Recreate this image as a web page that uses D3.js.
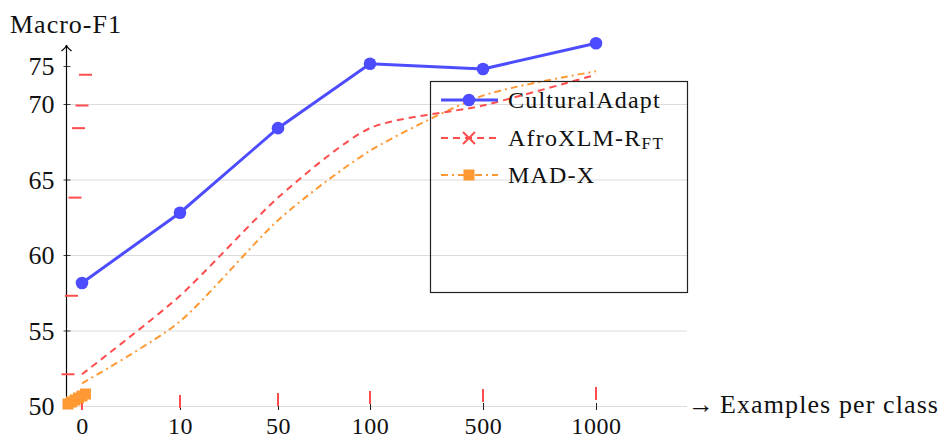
<!DOCTYPE html>
<html><head><meta charset="utf-8">
<script src="https://cdn.jsdelivr.net/npm/d3@7"></script>
<style>
html,body{margin:0;padding:0;background:#fff;}
svg{display:block;}
text{font-family:"Liberation Serif","Times New Roman",serif;fill:#111;}
</style></head>
<body><svg id="c" width="943" height="440"></svg>
<script>
// ---- data ----
const xCats = [0, 10, 50, 100, 500, 1000];
const xTickLabels = ["0", "10", "50", "100", "500", "1000"];
const culturalAdapt = [58.15, 62.8, 68.4, 75.3, 74.6, 78.0];
const afroXLMR = [52.1, 57.3, 63.8, 68.4, 69.9, 73.85];
const madX = [51.5, 55.6, 62.3, 66.9, 71.1, 74.3];
const yTicks = [50, 55, 60, 65, 70, 75];
const gridTicks = [50, 55, 60, 65, 70];
const seriesNames = ["CulturalAdapt", "AfroXLM-R", "MAD-X"];
const seriesColors = ["#4d4dff", "#ff4d4d", "#ff9933"];

const svg = d3.select("#c");
const x = d3.scaleLinear().domain(xCats).range([82, 180, 278, 370, 483, 596]);
const y = d3.scaleLinear().domain([50, 70, 75]).range([406, 104, 66]);
const axisX = 66, plotRight = 687, baseY = y(50);

// grid
svg.append("g").selectAll("line").data(gridTicks).join("line")
  .attr("x1", axisX).attr("x2", plotRight)
  .attr("y1", d => y(d) + 0.5).attr("y2", d => y(d) + 0.5)
  .attr("stroke", "#dcdcdc").attr("stroke-width", 1.2);

// y axis (library axis for ticks + labels)
const yAxis = d3.axisLeft(y).tickValues(yTicks).tickSizeInner(3).tickSizeOuter(0).tickPadding(9);
const gy = svg.append("g").attr("transform", `translate(${axisX + 0.5},0)`).call(yAxis);
gy.select(".domain").remove();
gy.selectAll(".tick line").attr("x1", -3).attr("x2", 4).attr("stroke", "#444");
gy.selectAll(".tick text").attr("font-size", 26).attr("font-family", "Liberation Serif, serif")
  .attr("fill", "#111").attr("dy", "0.34em");
// y axis line with arrow
svg.append("line").attr("x1", axisX + 0.5).attr("x2", axisX + 0.5)
  .attr("y1", baseY + 2).attr("y2", 45).attr("stroke", "#000").attr("stroke-width", 1.2);
svg.append("path").attr("d", `M${axisX - 4.5},51 Q${axisX + 0.5},47 ${axisX + 0.5},45 Q${axisX + 0.5},47 ${axisX + 5.5},51`)
  .attr("fill", "none").attr("stroke", "#000").attr("stroke-width", 1.2);
svg.append("text").attr("x", 10).attr("y", 33).attr("font-size", 26).attr("letter-spacing", 1)
  .text("Macro-F1");

// x axis ticks + labels
const xAxis = d3.axisBottom(x).tickValues(xCats).tickFormat((d, i) => xTickLabels[i])
  .tickSizeInner(4).tickSizeOuter(0).tickPadding(7);
const gx = svg.append("g").attr("transform", `translate(0,${baseY})`).call(xAxis);
gx.select(".domain").remove();
gx.selectAll(".tick line").attr("y1", -3).attr("y2", 4).attr("stroke", "#222");
gx.selectAll(".tick text").attr("font-size", 24).attr("letter-spacing", 0.6)
  .attr("font-family", "Liberation Serif, serif").attr("fill", "#111");
svg.append("text").attr("x", 688).attr("y", 413).attr("font-size", 26).text("→");
svg.append("text").attr("x", 720).attr("y", 413).attr("font-size", 26).attr("letter-spacing", 1.1)
  .text("Examples per class");

// lines
const straight = d3.line().x((d, i) => x(xCats[i])).y(d => y(d));
const smooth = d3.line().x((d, i) => x(xCats[i])).y(d => y(d)).curve(d3.curveCardinal.tension(0.3));

svg.append("path").datum(madX).attr("d", smooth).attr("fill", "none")
  .attr("stroke", seriesColors[2]).attr("stroke-width", 2).attr("stroke-dasharray", "7,4,2,4");
svg.append("path").datum(afroXLMR).attr("d", smooth).attr("fill", "none")
  .attr("stroke", seriesColors[1]).attr("stroke-width", 2).attr("stroke-dasharray", "7,5");
svg.append("path").datum(culturalAdapt).attr("d", straight).attr("fill", "none")
  .attr("stroke", seriesColors[0]).attr("stroke-width", 3);
svg.append("g").selectAll("circle").data(culturalAdapt).join("circle")
  .attr("cx", (d, i) => x(xCats[i])).attr("cy", d => y(d)).attr("r", 6.3).attr("fill", seriesColors[0]);

// misplaced markers (as in the reference rendering)
const mOriginX = i => axisX + 2 + 3.5 * i;
const mOriginY = i => baseY - 2 - 2 * i;
svg.append("g").selectAll("line").data(afroXLMR).join("line")
  .attr("x1", (d, i) => mOriginX(i) - 6.5).attr("x2", (d, i) => mOriginX(i) + 6.5)
  .attr("y1", d => y(d)).attr("y2", d => y(d))
  .attr("stroke", seriesColors[1]).attr("stroke-width", 2);
svg.append("g").selectAll("line").data(afroXLMR).join("line")
  .attr("x1", (d, i) => x(xCats[i])).attr("x2", (d, i) => x(xCats[i]))
  .attr("y1", (d, i) => mOriginY(i) - 7).attr("y2", (d, i) => mOriginY(i) + 6)
  .attr("stroke", seriesColors[1]).attr("stroke-width", 2);
svg.append("g").selectAll("rect").data(madX).join("rect")
  .attr("x", (d, i) => mOriginX(i) - 5.5).attr("y", (d, i) => mOriginY(i) - 5.5)
  .attr("width", 11).attr("height", 11).attr("fill", seriesColors[2]);

// legend (transparent box, as in the reference)
const lg = svg.append("g");
lg.append("rect").attr("x", 430.5).attr("y", 81.5).attr("width", 257).attr("height", 211)
  .attr("fill", "none").attr("stroke", "#222").attr("stroke-width", 1.2);
const rowY = [100, 138, 175];
const dashes = [null, "7,5", "7,4,2,4"];
seriesNames.forEach((name, i) => {
  lg.append("line").attr("x1", 441).attr("x2", 498).attr("y1", rowY[i]).attr("y2", rowY[i])
    .attr("stroke", seriesColors[i]).attr("stroke-width", i === 0 ? 3 : 2)
    .attr("stroke-dasharray", dashes[i]);
  if (i === 0) lg.append("circle").attr("cx", 469).attr("cy", rowY[i]).attr("r", 6.3).attr("fill", seriesColors[i]);
  if (i === 1) lg.append("path").attr("d", `M463,${rowY[i] - 6}L475,${rowY[i] + 6}M463,${rowY[i] + 6}L475,${rowY[i] - 6}`)
    .attr("stroke", seriesColors[i]).attr("stroke-width", 2);
  if (i === 2) lg.append("rect").attr("x", 463.5).attr("y", rowY[i] - 5.5).attr("width", 11).attr("height", 11).attr("fill", seriesColors[i]);
  const t = lg.append("text").attr("x", 508).attr("y", rowY[i] + 8).attr("font-size", 24).attr("letter-spacing", 1.2).text(name);
  if (i === 1) t.append("tspan").attr("font-size", 17).attr("dy", 3).attr("letter-spacing", 1.5).text("FT");
});
</script></body></html>
